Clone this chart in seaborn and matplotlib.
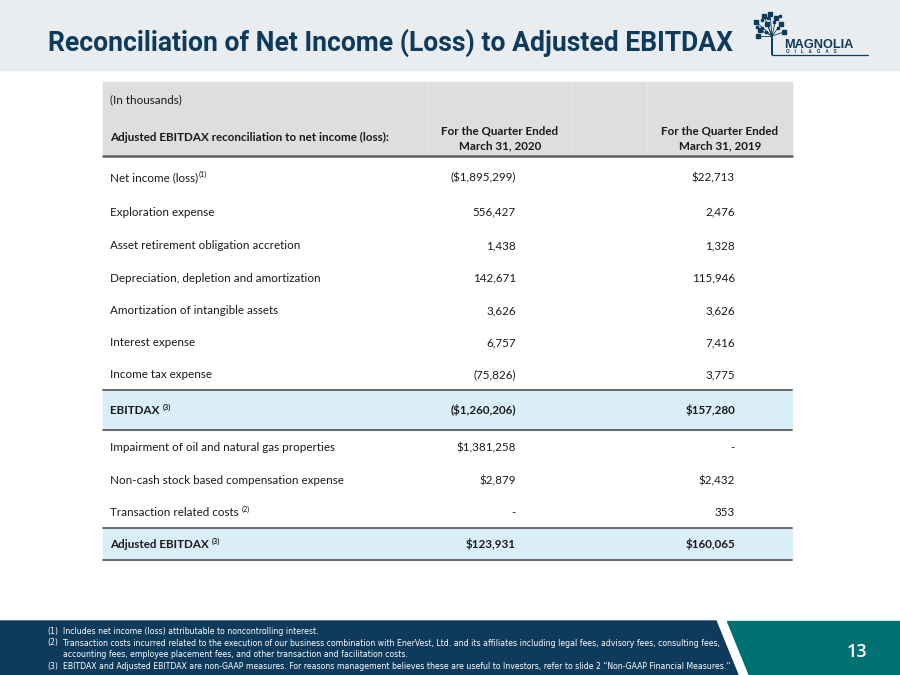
import matplotlib
matplotlib.use("Agg")
import matplotlib.pyplot as plt
import seaborn as sns
from matplotlib.patches import Polygon, Rectangle

# ---------------- data ----------------
title = "Reconciliation of Net Income (Loss) to Adjusted EBITDAX"
units_note = "(In thousands)"
row_header = "Adjusted EBITDAX reconciliation to net income (loss):"
col_headers = ["For the Quarter Ended\nMarch 31, 2020", "For the Quarter Ended\nMarch 31, 2019"]

row_labels = [
    "Net income (loss)",
    "Exploration expense",
    "Asset retirement obligation accretion",
    "Depreciation, depletion and amortization",
    "Amortization of intangible assets",
    "Interest expense",
    "Income tax expense",
    "EBITDAX ",
    "Impairment of oil and natural gas properties",
    "Non-cash stock based compensation expense",
    "Transaction related costs ",
    "Adjusted EBITDAX ",
]
row_notes = ["(1)", "", "", "", "", "", "", "(3)", "", "", "(2)", "(3)"]
q1_2020 = [-1895299, 556427, 1438, 142671, 3626, 6757, -75826, -1260206, 1381258, 2879, None, 123931]
q1_2019 = [22713, 2476, 1328, 115946, 3626, 7416, 3775, 157280, None, 2432, 353, 160065]
dollar_rows = [True, False, False, False, False, False, False, True, True, True, False, True]
bold_rows = [False, False, False, False, False, False, False, True, False, False, False, True]

footnotes = [
    ("(1)", "Includes net income (loss) attributable to noncontrolling interest."),
    ("(2)", "Transaction costs incurred related to the execution of our business combination with EnerVest, Ltd. and its affiliates including legal fees, advisory fees, consulting fees,"),
    ("", "accounting fees, employee placement fees, and other transaction and facilitation costs."),
    ("(3)", "EBITDAX and Adjusted EBITDAX are non-GAAP measures. For reasons management believes these are useful to Investors, refer to slide 2 \u201cNon-GAAP Financial Measures.\u201d"),
]
page_number = "13"

# ---------------- style ----------------
sns.set_theme(style="white")
plt.rcParams["font.family"] = ["Lato", "DejaVu Sans"]

NAVY = "#0E3B5C"
TEAL = "#007173"
TITLE_BG = "#E9EDEF"
HEAD_BG = "#DEDEDE"
HIGHLIGHT = "#DAEEF8"
LINE = "#5F5F5F"
TXT = "#1A1A1A"

fig = plt.figure(figsize=(9, 6.75), dpi=100)
ax = fig.add_axes([0, 0, 1, 1])
ax.set_xlim(0, 900)
ax.set_ylim(675, 0)
ax.axis("off")
renderer = fig.canvas.get_renderer()

# title bar
ax.add_patch(Rectangle((0, 0), 900, 70, color=TITLE_BG, zorder=0))
ax.text(48, 43, title, fontsize=19.1, fontweight="bold", color=NAVY,
        family=["Roboto", "DejaVu Sans"], va="center", ha="left")

# logo (simplified tree + wordmark)
tx, base = 772, 55
ax.plot([tx, tx], [base, 33], color=NAVY, lw=1.4, solid_capstyle="butt")
branch_tips = [(756, 22), (760, 30), (764, 16), (770, 14), (776, 18), (781, 24),
               (784, 32), (758, 36), (767, 24)]
for bx, by in branch_tips:
    ax.plot([tx, bx], [36, by], color=NAVY, lw=0.6)
    ax.plot(bx, by, marker="s", ms=2.4, color=NAVY, lw=0)
twig_pts = [(762, 20), (768, 18), (774, 22), (778, 28), (762, 28), (766, 32), (780, 16), (757, 27)]
for bx, by in twig_pts:
    ax.plot(bx, by, marker="s", ms=1.8, color=NAVY, lw=0)
ax.plot([tx, 868], [base, base], color=NAVY, lw=0.9)
ax.text(784, 47.5, "MAGNOLIA", fontsize=9.2, fontweight="bold", color=NAVY,
        family=["Liberation Sans", "DejaVu Sans"], va="baseline", ha="left")
ax.text(786, 53, "O    I    L    &    G    A    S", fontsize=3.3, fontweight="bold", color=NAVY,
        family=["Liberation Sans", "DejaVu Sans"], va="baseline", ha="left")

# table geometry
x0, x1 = 103, 792
head_top, head_bot = 82, 156
row_h = [38, 34, 33, 32, 33, 32, 32, 40, 33, 33, 32, 32]
label_x = 110
col_right = [516, 735]
col_center = [500, 720]
fs = 8.4

ax.add_patch(Rectangle((x0, head_top), x1 - x0, head_bot - head_top, color=HEAD_BG, zorder=0))
for vx in [428, 572, 647]:
    ax.plot([vx, vx], [head_top, head_bot], color="#E6E6E6", lw=0.8, zorder=1)
ax.text(label_x, 100, units_note, fontsize=fs, color=TXT, va="center")
ax.text(label_x, 137, row_header, fontsize=fs, color=TXT, va="center", fontweight="bold")
for c, h in zip(col_center, col_headers):
    ax.text(c, 138.5, h, fontsize=fs, color=TXT, va="center", ha="center",
            fontweight="bold", linespacing=1.4)


def fmt(v, dollar):
    if v is None:
        return "-"
    s = f"{abs(v):,}"
    if dollar:
        s = "$" + s
    if v < 0:
        s = "(" + s + ")"
    return s


inv = ax.transData.inverted()
y = head_bot
for i, lab in enumerate(row_labels):
    h = row_h[i]
    top = y
    cy = top + h / 2 + (2 if i == 0 else 0)
    bl = cy + 4.5
    if bold_rows[i]:
        ax.add_patch(Rectangle((x0, top), x1 - x0, h, color=HIGHLIGHT, zorder=0))
        ax.plot([x0, x1], [top, top], color=LINE, lw=1.3, zorder=2)
        ax.plot([x0, x1], [top + h, top + h], color=LINE, lw=1.3, zorder=2)
    wt = "bold" if bold_rows[i] else "normal"
    t = ax.text(label_x, bl, lab, fontsize=fs, color=TXT, va="baseline", fontweight=wt)
    if row_notes[i]:
        bb = t.get_window_extent(renderer=renderer)
        xe = inv.transform((bb.x1, bb.y0))[0]
        ax.text(xe + 0.3, bl - 5, row_notes[i], fontsize=fs * 0.62, color=TXT,
                va="baseline", ha="left", fontweight=wt)
    for cx, vals in zip(col_right, [q1_2020, q1_2019]):
        ax.text(cx, bl, fmt(vals[i], dollar_rows[i]), fontsize=fs, color=TXT,
                va="baseline", ha="right", fontweight=wt)
    y += h

ax.plot([x0, x1], [head_bot, head_bot], color=LINE, lw=1.8, zorder=2)

# footer
fy = 621
ax.add_patch(Polygon([(0, fy), (716, fy), (738, 675), (0, 675)], closed=True, color=NAVY, zorder=0))
ax.add_patch(Polygon([(727, fy), (900, fy), (900, 675), (749, 675)], closed=True, color=TEAL, zorder=0))
fn_y = [634, 645.5, 657, 669]
for (num, txt), yy in zip(footnotes, fn_y):
    if num:
        ax.text(47, yy, num, fontsize=5.6, color="white", va="baseline",
                family=["Liberation Sans Narrow", "DejaVu Sans"])
    ax.text(63, yy, txt, fontsize=5.6, color="white", va="baseline",
            family=["Liberation Sans Narrow", "DejaVu Sans"])
ax.text(857, 652, page_number, fontsize=13, color="white", va="center", ha="center",
        fontweight="semibold", family=["Open Sans", "DejaVu Sans"])

fig.savefig("out.png", dpi=100)
